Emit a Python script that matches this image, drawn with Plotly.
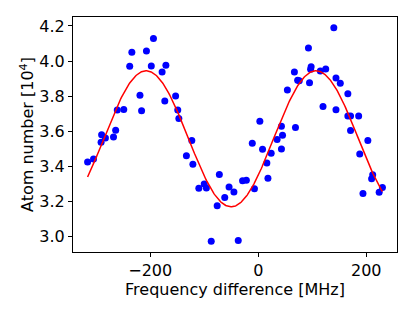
import numpy as np
import plotly.graph_objects as go

# Measured data (frequency difference in MHz, atom number in 1e4)
freq = [-316, -305, -291, -290, -283, -268, -264, -261, -249, -238, -234, -219, -216,
        -207, -198, -194, -178, -171, -173, -153, -149, -147, -123, -133, -121, -110,
        -100, -96, -87, -76, -72, -62, -54, -45, -37, -29, -22, -11, -7, 3, 8, 16, 18,
        24, 35, 43, 43, 45, 54, 67, 69, 73, 76, 93, 95, 98, 97, 115, 125, 120, 140, 144,
        152, 144, 166, 166, 171, 186, 171, 203, 188, 212, 210, 194, 230, 224]
atoms = [3.425, 3.442, 3.538, 3.580, 3.561, 3.567, 3.606, 3.721, 3.724, 3.970, 4.050,
         3.805, 3.717, 4.057, 3.972, 4.128, 3.937, 3.976, 3.773, 3.801, 3.721, 3.672,
         3.547, 3.460, 3.412, 3.275, 3.300, 3.276, 2.973, 3.175, 3.354, 3.223, 3.282,
         3.254, 2.978, 3.318, 3.321, 3.531, 3.272, 3.657, 3.497, 3.419, 3.332, 3.475,
         3.553, 3.499, 3.628, 3.577, 3.835, 3.937, 3.622, 3.890, 3.888, 4.074, 3.876,
         3.967, 3.953, 3.943, 3.954, 3.741, 4.190, 3.903, 3.873, 3.723, 3.814, 3.687,
         3.687, 3.687, 3.605, 3.547, 3.471, 3.352, 3.329, 3.246, 3.280, 3.252]

# Sinusoidal fit parameters
fit_offset = 3.557
fit_amp = 0.3875
fit_center = 107.0
fit_period = 314.5
fit_start, fit_stop = -316, 230

xticks = [-200, 0, 200]
yticks = [3.0, 3.2, 3.4, 3.6, 3.8, 4.0, 4.2]

fx = np.linspace(fit_start, fit_stop, 400)
fy = fit_offset + fit_amp * np.cos(2 * np.pi * (fx - fit_center) / fit_period)

fig = go.Figure()
fig.add_trace(go.Scatter(x=freq, y=atoms, mode="markers",
                         marker=dict(color="#0000ff", size=7, line=dict(width=0)),
                         showlegend=False))
fig.add_trace(go.Scatter(x=fx, y=fy, mode="lines",
                         line=dict(color="#ff0000", width=1.5),
                         showlegend=False))

font = dict(family="DejaVu Sans", size=16, color="black")
fig.update_layout(
    width=415, height=311,
    margin=dict(l=73, r=18, t=17, b=59),
    paper_bgcolor="white", plot_bgcolor="white",
    font=font,
    xaxis=dict(range=[-343, 257], tickvals=xticks, ticks="outside", ticklen=4,
               tickcolor="black", showline=True, linecolor="black", linewidth=1,
               mirror=True, showgrid=False, zeroline=False, automargin=False,
               title=dict(text="Frequency difference [MHz]", font=font, standoff=3)),
    yaxis=dict(range=[2.912, 4.251], tickvals=yticks, tickformat=".1f",
               ticks="outside", ticklen=4, tickcolor="black", showline=True,
               linecolor="black", linewidth=1, mirror=True, showgrid=False,
               zeroline=False, automargin=False,
               title=dict(text="Atom number [10<sup>4</sup>]", font=font, standoff=1)),
)
fig.write_html("out.html", config={"displayModeBar": False},
               post_script="document.body.style.margin='0';document.body.style.overflow='hidden';")
